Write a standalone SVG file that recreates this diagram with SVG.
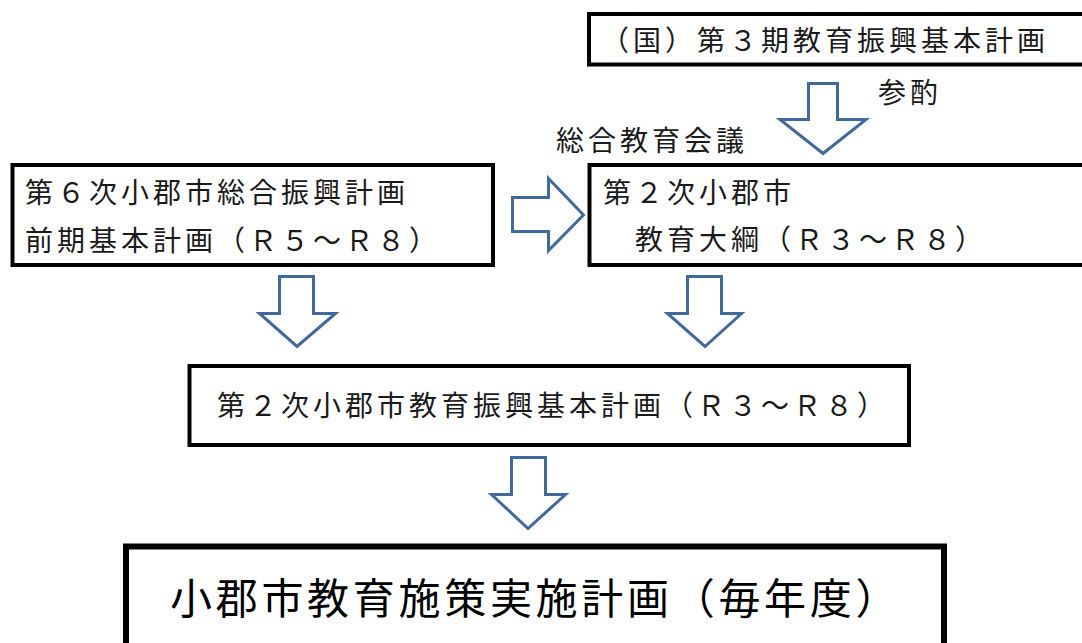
<svg xmlns="http://www.w3.org/2000/svg" width="1082" height="643" viewBox="0 0 1082 643">
<style>
.box{fill:#ffffff;stroke:#000000;stroke-width:4}
.big{stroke-width:6}
.arr{fill:#ffffff;stroke:#41699A;stroke-width:3;stroke-linejoin:miter}
text{font-family:"Noto Sans CJK JP","Noto Sans",sans-serif;fill:#1a1a1a;font-size:28px;letter-spacing:4px}
.t2{font-size:42px;letter-spacing:3.7px;fill:#000000}
</style>
<rect x="0" y="0" width="1082" height="643" fill="#ffffff"/>
<g id="node-national">
<rect class="box" x="589" y="14" width="500" height="50.5"/>
<text x="601" y="51">（国）第３期教育振興基本計画</text>
</g>
<g id="label-sansyaku"><text x="878" y="103">参酌</text></g>
<g id="label-kaigi"><text x="556" y="151">総合教育会議</text></g>
<g id="node-sogo">
<rect class="box" x="12.5" y="165" width="480.5" height="100"/>
<text x="25" y="203">第６次小郡市総合振興計画</text>
<text x="25" y="251">前期基本計画（Ｒ５～Ｒ８）</text>
</g>
<g id="node-taiko">
<rect class="box" x="589.5" y="165" width="500" height="100"/>
<text x="603" y="203">第２次小郡市</text>
<text x="603" y="250">　教育大綱（Ｒ３～Ｒ８）</text>
</g>
<g id="node-shinko">
<rect class="box" x="189.5" y="366" width="719.5" height="79"/>
<text x="217" y="416">第２次小郡市教育振興基本計画（Ｒ３～Ｒ８）</text>
</g>
<g id="node-jisshi">
<rect class="box big" x="126" y="546.5" width="818" height="110"/>
<text class="t2" x="170" y="614">小郡市教育施策実施計画（毎年度）</text>
</g>
<g id="connectors">
<polygon class="arr" points="808.5,83.5 837.5,83.5 837.5,119.5 866,119.5 823,153.5 780,119.5 808.5,119.5"/>
<polygon class="arr" points="512.5,197.5 548.5,197.5 548.5,178.5 583.5,215 548.5,250.5 548.5,231.5 512.5,231.5"/>
<polygon class="arr" points="279.5,276.5 313.5,276.5 313.5,313.5 335.5,313.5 297,346.5 259.5,313.5 279.5,313.5"/>
<polygon class="arr" points="687.5,276.5 721.5,276.5 721.5,313.5 741.5,313.5 705,346.5 667.5,313.5 687.5,313.5"/>
<polygon class="arr" points="511.5,457.5 545.5,457.5 545.5,494.5 565.5,494.5 528,528.5 491.5,494.5 511.5,494.5"/>
</g>
</svg>
